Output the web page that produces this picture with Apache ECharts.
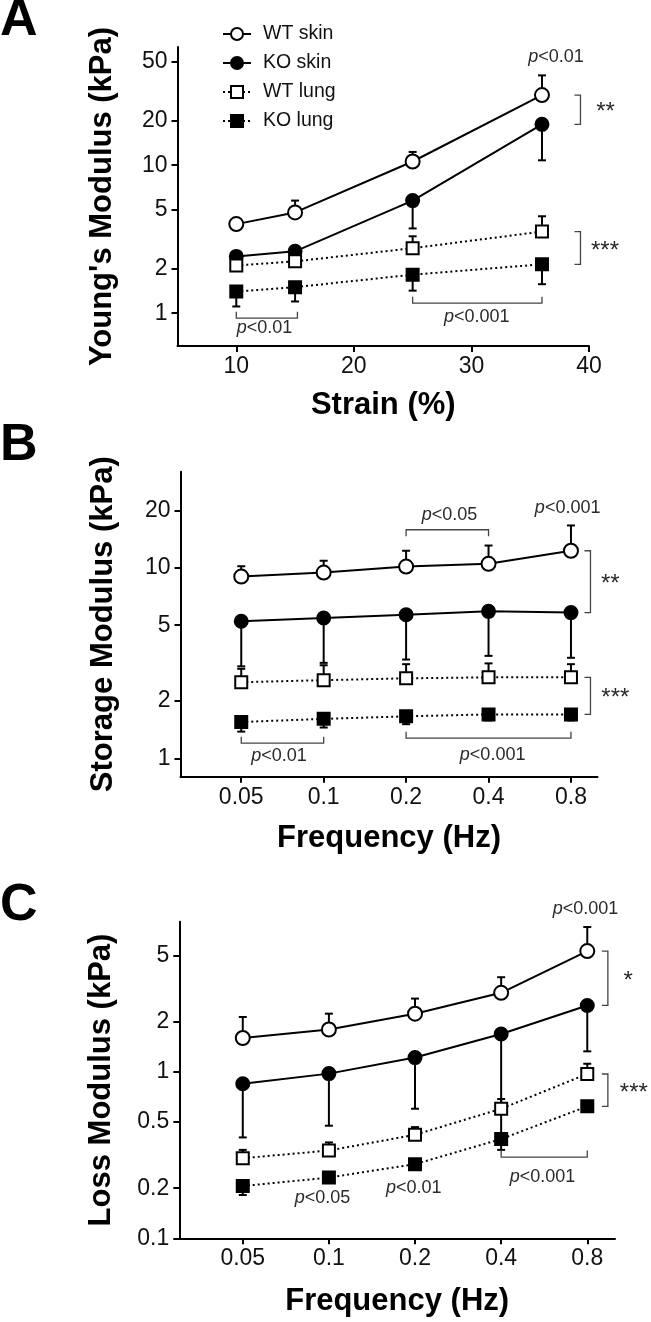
<!DOCTYPE html>
<html><head><meta charset="utf-8">
<script src="https://cdn.jsdelivr.net/npm/echarts@6/dist/echarts.min.js"></script>
<style>html,body{margin:0;padding:0;background:#fff}#c{width:651px;height:1322px}</style>
</head><body><div id="c"></div>
<script>
const FONT = "'Liberation Sans', Arial, Helvetica, sans-serif";
const seriesNames = ['WT skin', 'KO skin', 'WT lung', 'KO lung'];

// ---------- Panel A : Young's modulus vs strain ----------
const strainX = [10, 15, 25, 36];
const aWtSkin = [4.0, 4.8, 10.6, 29.8];
const aWtSkinErr = [4.3, 5.77, 12.3, 40.5];
const aKoSkin = [2.42, 2.62, 5.77, 18.9];
const aKoSkinErr = [2.3, 2.5, 3.74, 10.8];
const aWtLung = [2.10, 2.24, 2.75, 3.56];
const aWtLungErr = [2.25, 2.4, 3.31, 4.52];
const aKoLung = [1.40, 1.50, 1.82, 2.14];
const aKoLungErr = [1.11, 1.2, 1.42, 1.57];
const aXTicks = [10, 20, 30, 40];
const aYTicks = [1, 2, 5, 10, 20, 50];

// ---------- Panel B : storage modulus vs frequency ----------
const freqX = [0.05, 0.1, 0.2, 0.4, 0.8];
const bWtSkin = [9.0, 9.45, 10.16, 10.5, 12.3];
const bWtSkinErr = [10.2, 10.9, 12.3, 13.1, 16.7];
const bKoSkin = [5.24, 5.45, 5.67, 5.91, 5.82];
const bKoSkinErr = [3.04, 3.17, 3.30, 3.45, 3.37];
const bWtLung = [2.51, 2.57, 2.63, 2.66, 2.66];
const bWtLungErr = [2.95, 3.08, 3.12, 3.15, 3.12];
const bKoLung = [1.55, 1.61, 1.66, 1.70, 1.70];
const bKoLungErr = [1.38, 1.45, 1.51, 1.58, 1.58];
const bYTicks = [1, 2, 5, 10, 20];

// ---------- Panel C : loss modulus vs frequency ----------
const cWtSkin = [1.60, 1.80, 2.24, 2.99, 5.33];
const cWtSkinErr = [2.14, 2.24, 2.76, 3.71, 7.43];
const cKoSkin = [0.85, 0.977, 1.22, 1.69, 2.51];
const cKoSkinErr = [0.404, 0.475, 0.601, 0.34, 1.33];
const cWtLung = [0.303, 0.337, 0.419, 0.601, 0.972];
const cWtLungErr = [0.34, 0.377, 0.466, 0.687, 1.12];
const cKoLung = [0.206, 0.232, 0.279, 0.395, 0.621];
const cKoLungErr = [0.182, 0.215, 0.26, 0.37, 0.59];
const cYTicks = [0.1, 0.2, 0.5, 1, 2, 5];
const freqTicks = [0.05, 0.1, 0.2, 0.4, 0.8];

// ---------- annotations (data coordinates) ----------
const aHBrackets = [[10, 15.2, 0.925, -1], [25, 36, 1.169, -1]];
const aTexts = [{x: 37.2, y: 53.8, t: 'p<0.01'}, {x: 12.4, y: 0.788, t: 'p<0.01'}, {x: 30.46, y: 0.939, t: 'p<0.001'}];
const aVBrackets = [{x: 36, y1: aWtSkin[3], y2: aKoSkin[3], t: '**'}, {x: 36, y1: aWtLung[3], y2: aKoLung[3], t: '***'}];

const bHBrackets = [[0.2, 0.4, 15.86, 1], [0.05, 0.1, 1.20, -1], [0.2, 0.8, 1.275, -1]];
const bTexts = [{x: 0.288, y: 19.03, t: 'p<0.05'}, {x: 0.778, y: 20.64, t: 'p<0.001'}, {x: 0.0687, y: 1.033, t: 'p<0.01'}, {x: 0.414, y: 1.046, t: 'p<0.001'}];
const bVBrackets = [{x: 0.8, y1: bWtSkin[4], y2: bKoSkin[4], t: '**'}, {x: 0.8, y1: bWtLung[4], y2: bKoLung[4], t: '***'}];

const cHBrackets = [[0.4, 0.8, 0.3076, -1]];
const cTexts = [{x: 0.789, y: 9.5, t: 'p<0.001'}, {x: 0.558, y: 0.235, t: 'p<0.001'}, {x: 0.095, y: 0.174, t: 'p<0.05'}, {x: 0.198, y: 0.2, t: 'p<0.01'}];
const cVBrackets = [{x: 0.8, y1: cWtSkin[4], y2: cKoSkin[4], t: '*'}, {x: 0.8, y1: cWtLung[4], y2: cKoLung[4], t: '***'}];

// ---------- styles ----------
const styles = {
  'WT skin': {symbol: 'circle', size: 14, fill: '#fff', dash: 'solid'},
  'KO skin': {symbol: 'circle', size: 13, fill: '#000', dash: 'solid'},
  'WT lung': {symbol: 'rect', size: 12, fill: '#fff', dash: [2, 3]},
  'KO lung': {symbol: 'rect', size: 12, fill: '#000', dash: [2, 3]}
};
const fmt = v => String(+(+v).toPrecision(6));

function errRender(params, api) {
  const p0 = api.coord([api.value(0), api.value(1)]);
  const p1 = api.coord([api.value(0), api.value(2)]);
  const st = {stroke: '#000', lineWidth: 2};
  return {type: 'group', children: [
    {type: 'line', shape: {x1: p0[0], y1: p0[1], x2: p1[0], y2: p1[1]}, style: st},
    {type: 'line', shape: {x1: p1[0] - 4, y1: p1[1], x2: p1[0] + 4, y2: p1[1]}, style: st}
  ]};
}

function panelSeries(gi, xs, groups) {
  const out = [];
  groups.forEach(g => {
    const s = styles[g.name];
    out.push({
      type: 'line', name: g.name, xAxisIndex: gi, yAxisIndex: gi, z: 3,
      data: xs.map((x, i) => [x, g.vals[i]]),
      symbol: s.symbol, symbolSize: s.size, showAllSymbol: true,
      itemStyle: {color: s.fill, borderColor: '#000', borderWidth: 2, opacity: 1},
      lineStyle: {color: '#000', width: 2, type: s.dash},
      emphasis: {disabled: true}, silent: true
    });
  });
  groups.forEach(g => {
    out.push({
      type: 'custom', name: g.name + ' error', xAxisIndex: gi, yAxisIndex: gi, z: 2, silent: true,
      encode: {x: 0, y: [1, 2]},
      data: xs.map((x, i) => [x, g.vals[i], g.err[i]]),
      renderItem: errRender
    });
  });
  return out;
}

const txtStyle = (t, size) => {
  const m = /^p(.*)$/.exec(t);
  const base = {fontSize: size, fontFamily: FONT, fill: '#2a2a2a'};
  if (m) {
    return {text: '{i|p}{n|' + m[1] + '}', rich: {i: Object.assign({fontStyle: 'italic'}, base), n: base},
            align: 'center', verticalAlign: 'middle', fontSize: size, fontFamily: FONT};
  }
  return Object.assign({text: t, align: 'center', verticalAlign: 'middle'}, base);
};

function annSeries(gi, hb, texts, vb, vdx, tdx) {
  const bst = {stroke: '#444', lineWidth: 1.3, fill: 'none'};
  return [
    {
      type: 'custom', xAxisIndex: gi, yAxisIndex: gi, z: 4, silent: true,
      encode: {x: [0, 2], y: 1},
      data: hb.map(b => [b[0], b[2], b[1]]),
      renderItem: (params, api) => {
        const d = hb[params.dataIndex][3] * 6.5;
        const p1 = api.coord([api.value(0), api.value(1)]);
        const p2 = api.coord([api.value(2), api.value(1)]);
        return {type: 'polyline', shape: {points: [[p1[0], p1[1] + d], p1, p2, [p2[0], p2[1] + d]]}, style: bst};
      }
    },
    {
      type: 'custom', xAxisIndex: gi, yAxisIndex: gi, z: 4, silent: true,
      encode: {x: 0, y: 1},
      data: texts.map(t => [t.x, t.y]),
      renderItem: (params, api) => {
        const p = api.coord([api.value(0), api.value(1)]);
        return {type: 'text', x: p[0], y: p[1], style: txtStyle(texts[params.dataIndex].t, 18)};
      }
    },
    {
      type: 'custom', xAxisIndex: gi, yAxisIndex: gi, z: 4, silent: true,
      encode: {x: 0, y: [1, 2]},
      data: vb.map(v => [v.x, v.y1, v.y2]),
      renderItem: (params, api) => {
        const v = vb[params.dataIndex];
        const p1 = api.coord([api.value(0), api.value(1)]);
        const p2 = api.coord([api.value(0), api.value(2)]);
        const bx = p1[0] + vdx;
        const tx = p1[0] + tdx[params.dataIndex];
        return {type: 'group', children: [
          {type: 'polyline', shape: {points: [[bx - 6, p1[1]], [bx, p1[1]], [bx, p2[1]], [bx - 6, p2[1]]]}, style: bst},
          {type: 'text', x: tx, y: (p1[1] + p2[1]) / 2 + 3, style: txtStyle(v.t, 24)}
        ]};
      }
    }
  ];
}

const axisLineStyle = {show: true, lineStyle: {color: '#000', width: 2}};
const tickStyle = vals => ({show: true, length: 6, inside: false, lineStyle: {color: '#000', width: 2}, customValues: vals});
const labelStyle = (vals, margin) => ({show: true, customValues: vals, formatter: fmt, fontSize: 23, color: '#111', fontFamily: FONT, margin: margin});
const nameStyle = {fontSize: 31, fontWeight: 'bold', color: '#000', fontFamily: FONT};

function xAxis(gi, type, min, max, ticks, name, gap) {
  const ax = {type: type, gridIndex: gi, min: min, max: max, name: name, nameLocation: 'middle', nameGap: gap,
    nameTextStyle: nameStyle, axisLine: axisLineStyle, axisTick: tickStyle(ticks), axisLabel: labelStyle(ticks, 9),
    splitLine: {show: false}, minorTick: {show: false}};
  if (type === 'log') ax.logBase = 2;
  return ax;
}
function yAxis(gi, min, max, ticks, name, gap) {
  return {type: 'log', logBase: 10, gridIndex: gi, min: min, max: max, name: name, nameLocation: 'middle', nameGap: gap,
    nameTextStyle: nameStyle, axisLine: axisLineStyle, axisTick: tickStyle(ticks), axisLabel: labelStyle(ticks, 10),
    splitLine: {show: false}, minorTick: {show: false}};
}

const grp = (vals) => seriesNames.map((n, k) => ({name: n, vals: vals[k][0], err: vals[k][1]}));

const option = {
  animation: false,
  backgroundColor: '#fff',
  textStyle: {fontFamily: FONT},
  grid: [
    {left: 177.5, width: 411.5, top: 47, height: 299, outerBoundsMode: 'none', containLabel: false},
    {left: 180.5, width: 417, top: 471.7, height: 305, outerBoundsMode: 'none', containLabel: false},
    {left: 179.3, width: 435.7, top: 921.7, height: 316.6, outerBoundsMode: 'none', containLabel: false}
  ],
  legend: {
    orient: 'vertical', left: 217, top: 19, itemWidth: 28, itemHeight: 15, itemGap: 9,
    selectedMode: false, data: seriesNames,
    textStyle: {fontSize: 19.5, color: '#111', fontFamily: FONT, padding: [0, 0, 0, 7]}
  },
  xAxis: [
    xAxis(0, 'value', 5, 40, aXTicks, 'Strain (%)', 43.5),
    xAxis(1, 'log', 0.03, 1, freqTicks, 'Frequency (Hz)', 46),
    xAxis(2, 'log', 0.03, 1, freqTicks, 'Frequency (Hz)', 48)
  ],
  yAxis: [
    yAxis(0, 0.6, 63, aYTicks, "Young's Modulus (kPa)", 60),
    yAxis(1, 0.8, 32, bYTicks, 'Storage Modulus (kPa)', 62),
    yAxis(2, 0.1, 8, cYTicks, 'Loss Modulus (kPa)', 62)
  ],
  graphic: [
    {type: 'text', x: 0, y: 21, style: {text: 'A', fontSize: 52, fontWeight: 'bold', fontFamily: FONT, fill: '#000', align: 'left', verticalAlign: 'middle'}},
    {type: 'text', x: 0, y: 446, style: {text: 'B', fontSize: 52, fontWeight: 'bold', fontFamily: FONT, fill: '#000', align: 'left', verticalAlign: 'middle'}},
    {type: 'text', x: 0, y: 906, style: {text: 'C', fontSize: 52, fontWeight: 'bold', fontFamily: FONT, fill: '#000', align: 'left', verticalAlign: 'middle'}}
  ],
  series: [].concat(
    panelSeries(0, strainX, grp([[aWtSkin, aWtSkinErr], [aKoSkin, aKoSkinErr], [aWtLung, aWtLungErr], [aKoLung, aKoLungErr]])),
    panelSeries(1, freqX, grp([[bWtSkin, bWtSkinErr], [bKoSkin, bKoSkinErr], [bWtLung, bWtLungErr], [bKoLung, bKoLungErr]])),
    panelSeries(2, freqX, grp([[cWtSkin, cWtSkinErr], [cKoSkin, cKoSkinErr], [cWtLung, cWtLungErr], [cKoLung, cKoLungErr]])),
    annSeries(0, aHBrackets, aTexts, aVBrackets, 38.5, [63.5, 63]),
    annSeries(1, bHBrackets, bTexts, bVBrackets, 19.5, [39.4, 44.4]),
    annSeries(2, cHBrackets, cTexts, cVBrackets, 20.6, [40.9, 46.6])
  )
};

const chart = echarts.init(document.getElementById('c'), null, {renderer: 'canvas'});
chart.setOption(option);
</script>
</body></html>
